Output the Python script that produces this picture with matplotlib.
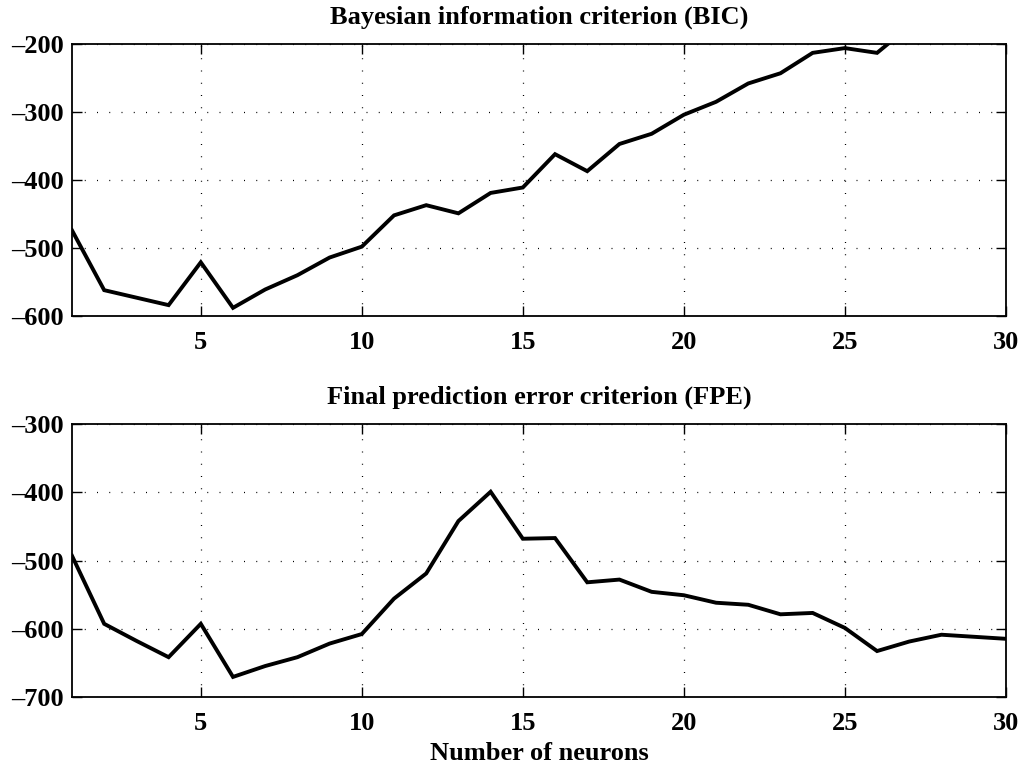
import matplotlib
matplotlib.use("Agg")
import matplotlib.pyplot as plt
from matplotlib.ticker import FuncFormatter

plt.rcParams['font.family'] = ['Liberation Serif', 'DejaVu Serif']
plt.rcParams['font.weight'] = 'bold'
plt.rcParams['axes.titleweight'] = 'bold'
plt.rcParams['axes.labelweight'] = 'bold'

# Number of hidden neurons
neurons = list(range(1, 31))

# Bayesian information criterion per network size
bic = [-474, -562, -573, -584, -521, -588, -561, -540, -514, -498,
       -452, -437, -449, -419, -411, -362, -387, -347, -332, -304,
       -285, -258, -243, -213, -206, -213, -174, -160, -150, -140]

# Final prediction error criterion per network size
fpe = [-493, -593, -618, -642, -593, -671, -655, -642, -622, -608,
       -556, -519, -442, -399, -468, -467, -532, -528, -546, -551,
       -562, -565, -579, -577, -599, -633, -619, -609, -612, -615]

bic_ticks = [-600, -500, -400, -300, -200]
fpe_ticks = [-700, -600, -500, -400, -300]
x_ticks = [5, 10, 15, 20, 25, 30]

fs = 19
fig = plt.figure(figsize=(10.24, 7.67), dpi=100)
ax1 = fig.add_axes([0.0703, 0.588, 0.912, 0.3546])
ax2 = fig.add_axes([0.0703, 0.0917, 0.912, 0.355])

panels = [
    (ax1, bic, bic_ticks, "Bayesian information criterion (BIC)"),
    (ax2, fpe, fpe_ticks, "Final prediction error criterion (FPE)"),
]

dash_fmt = FuncFormatter(lambda v, p: f"{int(v)}".replace("-", "\u2013"))

for ax, vals, yt, title in panels:
    ax.plot(neurons, vals, color='black', lw=2.8, solid_joinstyle='miter')
    ax.set_xlim(1, 30)
    ax.set_ylim(yt[0], yt[-1])
    ax.set_xticks(x_ticks)
    ax.set_yticks(yt)
    ax.yaxis.set_major_formatter(dash_fmt)
    ax.grid(True, color='black', linestyle=(0, (0.8, 9)), lw=0.9)
    ax.tick_params(direction='in', length=7, width=1, top=True, right=True,
                   labelsize=fs)
    ax.tick_params(axis='x', pad=11)
    ax.tick_params(axis='y', pad=6)
    for sp in ax.spines.values():
        sp.set_linewidth(1.3)
    ax.set_title(title, fontsize=fs, pad=15)

ax2.set_xlabel("Number of neurons", fontsize=fs, labelpad=5)

fig.savefig("out.png", dpi=100)
